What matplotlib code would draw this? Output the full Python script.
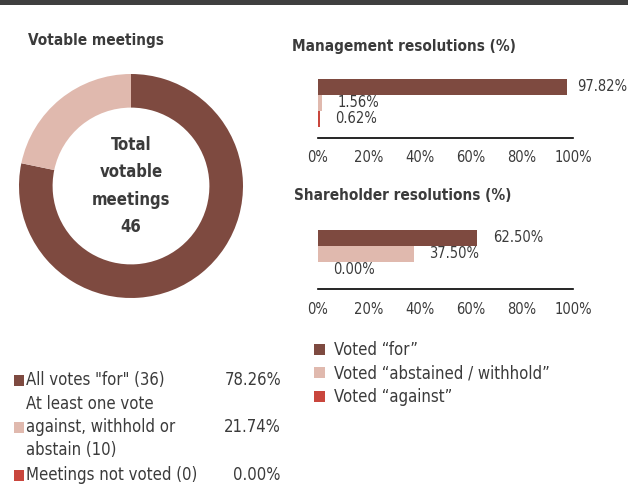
import numpy as np
import matplotlib
matplotlib.use("Agg")
import matplotlib.pyplot as plt
from matplotlib.patches import Rectangle

plt.rcParams['font.family'] = ['DejaVu Sans']
plt.rcParams['font.stretch'] = 'condensed'

# data
meeting_labels = ['All votes "for" (36)', 'At least one vote\nagainst, withhold or\nabstain (10)', 'Meetings not voted (0)']
meeting_pct = [78.26, 21.74, 0.00]
total_meetings = 46

vote_labels = ['Voted \u201cfor\u201d', 'Voted \u201cabstained / withhold\u201d', 'Voted \u201cagainst\u201d']
mgmt_pct = [97.82, 1.56, 0.62]
shr_pct = [62.50, 37.50, 0.00]
ticks = [0, 20, 40, 60, 80, 100]

colors = ['#7e4a40', '#e0b9ae', '#c9463d']
txt = '#3b3b3b'

W, H = 631, 499
fig = plt.figure(figsize=(W / 100, H / 100), dpi=100)


def box(x0, y0, x1, y1):
    # pixel box (top-left origin) -> figure fraction
    return [x0 / W, 1 - y1 / H, (x1 - x0) / W, (y1 - y0) / H]


# top rule
fig.add_artist(Rectangle((0, 1 - 5 / H), 628 / W, 5 / H, transform=fig.transFigure,
                         color='#3f3f3f', lw=0))

# donut
ax = fig.add_axes(box(19, 74, 243, 298))
ax.pie(meeting_pct, colors=colors, startangle=90, counterclock=False,
       wedgeprops=dict(width=0.3, edgecolor='none'), radius=1)
ax.set_xlim(-1, 1)
ax.set_ylim(-1, 1)
ax.set_aspect('equal')
ax.axis('off')
ax.text(0, 0.0, 'Total\nvotable\nmeetings\n%d' % total_meetings, ha='center', va='center',
        fontsize=12, fontweight='bold', color=txt, linespacing=1.65)

fig.text(28 / W, 1 - 40 / H, 'Votable meetings', fontsize=11, fontweight='bold',
         color=txt, va='center', ha='left')

# left legend
rows_y = [380, 427, 475]
for lab, p, c, y in zip(meeting_labels, meeting_pct, colors, rows_y):
    fig.add_artist(Rectangle((14 / W, 1 - (y + 6) / H), 10 / W, 11 / H,
                             transform=fig.transFigure, color=c, lw=0))
    fig.text(26 / W, 1 - y / H, lab, fontsize=12, color=txt, va='center', ha='left',
             linespacing=1.35)
    fig.text(281 / W, 1 - y / H, '%.2f%%' % p, fontsize=12, color=txt, va='center', ha='right')


def hbars(ax, vals):
    ys = np.arange(len(vals))
    ax.barh(ys, vals, height=1.0, color=colors, align='center')
    for y, v in zip(ys, vals):
        ax.text(min(v + 6, 101.5), y, '%.2f%%' % v, va='center', ha='left',
                fontsize=10.5, color=txt, clip_on=False)
    ax.set_xlim(0, 100)
    ax.set_ylim(len(vals) - 0.5 + 0.7, -0.5)
    for s in ['top', 'right', 'left']:
        ax.spines[s].set_visible(False)
    ax.spines['bottom'].set_color('black')
    ax.spines['bottom'].set_linewidth(1.2)
    ax.set_yticks([])
    ax.set_xticks(ticks)
    ax.set_xticklabels(['%d%%' % t for t in ticks], fontsize=10.5, color=txt)
    ax.tick_params(axis='x', length=0, pad=9)
    ax.patch.set_alpha(0)


ax1 = fig.add_axes(box(318, 79, 573, 138))
hbars(ax1, mgmt_pct)
fig.text(292 / W, 1 - 46 / H, 'Management resolutions (%)', fontsize=11, fontweight='bold',
         color=txt, va='center', ha='left')

ax2 = fig.add_axes(box(318, 230, 573, 289))
hbars(ax2, shr_pct)
fig.text(294 / W, 1 - 196 / H, 'Shareholder resolutions (%)', fontsize=11, fontweight='bold',
         color=txt, va='center', ha='left')

# right legend
for lab, c, y in zip(vote_labels, colors, [350, 373, 397]):
    fig.add_artist(Rectangle((314 / W, 1 - (y + 5) / H), 11 / W, 11 / H,
                             transform=fig.transFigure, color=c, lw=0))
    fig.text(334 / W, 1 - y / H, lab, fontsize=12, color=txt, va='center', ha='left')

fig.savefig('out.png', dpi=100)
